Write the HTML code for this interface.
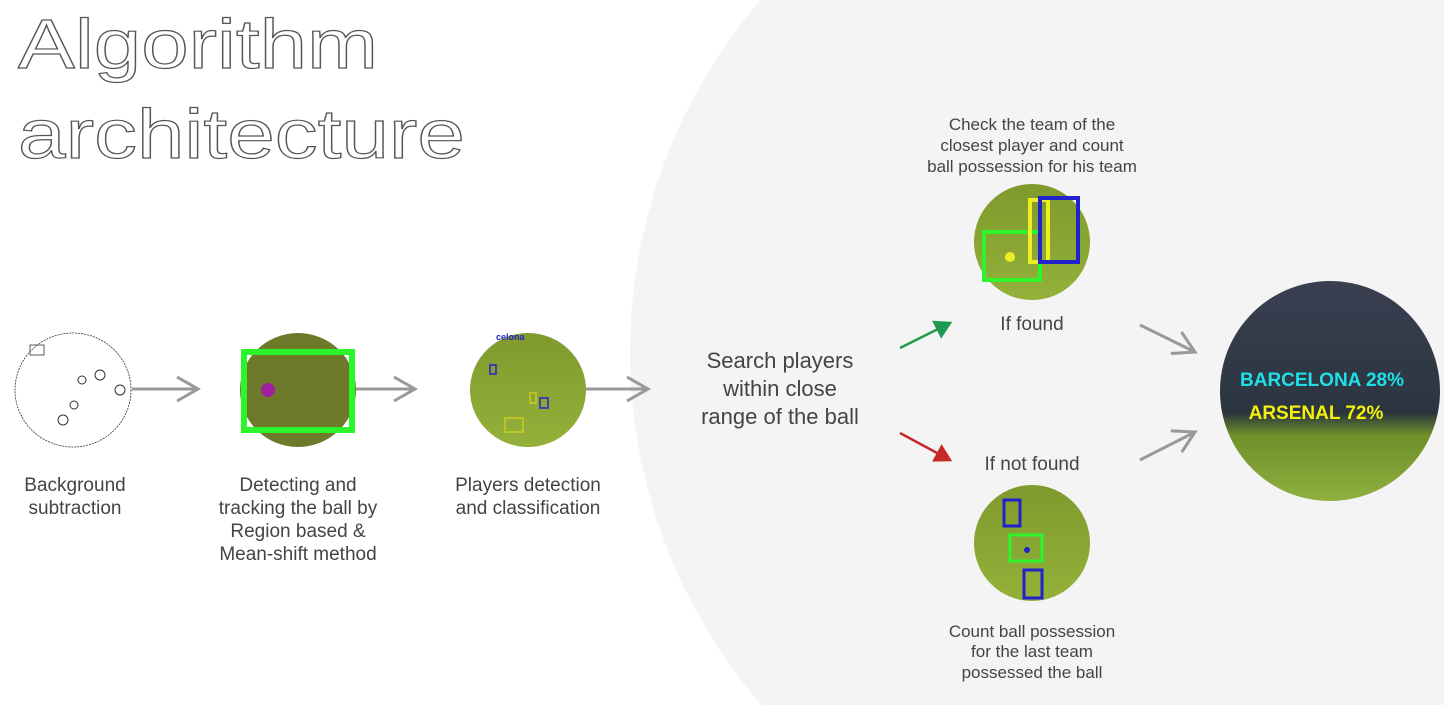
<!DOCTYPE html>
<html><head><meta charset="utf-8"><style>
html,body{margin:0;padding:0;background:#fff;width:1444px;height:705px;overflow:hidden;}
svg{display:block;font-family:"Liberation Sans",sans-serif;}
.lbl{font-size:19px;fill:#444;text-anchor:middle;}
.title{font-size:70px;fill:#fff;stroke:#555;stroke-width:1.2;}
</style></head><body>
<svg width="1444" height="705" viewBox="0 0 1444 705">
<defs>
<linearGradient id="field" x1="0" y1="0" x2="0" y2="1"><stop offset="0" stop-color="#7f9a2c"/><stop offset="1" stop-color="#93b13a"/></linearGradient>
<linearGradient id="stad" x1="0" y1="0" x2="0" y2="1"><stop offset="0" stop-color="#3a3f52"/><stop offset="0.6" stop-color="#2b3540"/><stop offset="0.7" stop-color="#6e8f2a"/><stop offset="1" stop-color="#90b040"/></linearGradient>
<marker id="ah" markerWidth="10" markerHeight="10" refX="8" refY="5" orient="auto"><path d="M1,1 L8,5 L1,9" fill="none" stroke="#999" stroke-width="1"/></marker>
<marker id="gh" markerWidth="8" markerHeight="8" refX="6" refY="4" orient="auto"><path d="M0,0 L7,4 L0,8z" fill="#1e9a50"/></marker>
<marker id="rh" markerWidth="8" markerHeight="8" refX="6" refY="4" orient="auto"><path d="M0,0 L7,4 L0,8z" fill="#c62828"/></marker>
</defs>
<circle cx="1170" cy="352" r="540" fill="#f4f4f4"/>
<text x="18" y="68" class="title" textLength="360" lengthAdjust="spacingAndGlyphs">Algorithm</text>
<text x="18" y="158" class="title" textLength="447" lengthAdjust="spacingAndGlyphs">architecture</text>

<g>
<ellipse cx="73" cy="390" rx="58" ry="57" fill="#fff" stroke="#333" stroke-width="0.8" stroke-dasharray="2,1"/>
<rect x="30" y="345" width="14" height="10" fill="none" stroke="#333" stroke-width="0.8"/>
<circle cx="82" cy="380" r="4" fill="none" stroke="#333"/><circle cx="100" cy="375" r="5" fill="none" stroke="#333"/>
<circle cx="74" cy="405" r="4" fill="none" stroke="#333"/><circle cx="63" cy="420" r="5" fill="none" stroke="#333"/><circle cx="120" cy="390" r="5" fill="none" stroke="#333"/>
</g>
<g>
<ellipse cx="298" cy="390" rx="58" ry="57" fill="#6d7a2a"/>
<rect x="244" y="352" width="108" height="78" fill="none" stroke="#2cf52c" stroke-width="6"/>
<circle cx="268" cy="390" r="7" fill="#a020a0"/>
</g>
<g>
<ellipse cx="528" cy="390" rx="58" ry="57" fill="url(#field)"/>
<rect x="490" y="365" width="6" height="9" fill="none" stroke="#22c" stroke-width="1.5"/>
<rect x="540" y="398" width="8" height="10" fill="none" stroke="#22c" stroke-width="1.5"/>
<rect x="505" y="418" width="18" height="14" fill="none" stroke="#cc2" stroke-width="1.5"/>
<rect x="530" y="393" width="6" height="10" fill="none" stroke="#cc2" stroke-width="1.5"/>
<text x="496" y="340" font-size="9" fill="#22c" font-weight="bold">celona</text>
</g>
<line x1="132" y1="389" x2="198" y2="389" stroke="#999" stroke-width="3" marker-end="url(#ah)"/>
<line x1="356" y1="389" x2="415" y2="389" stroke="#999" stroke-width="3" marker-end="url(#ah)"/>
<line x1="586" y1="389" x2="648" y2="389" stroke="#999" stroke-width="3" marker-end="url(#ah)"/>

<g><text x="75" y="491" class="lbl">Background</text><text x="75" y="514" class="lbl">subtraction</text></g>
<g><text x="298" y="491" class="lbl">Detecting and</text><text x="298" y="514" class="lbl">tracking the ball by</text><text x="298" y="537" class="lbl">Region based &amp;</text><text x="298" y="560" class="lbl">Mean-shift method</text></g>
<g><text x="528" y="491" class="lbl">Players detection</text><text x="528" y="514" class="lbl">and classification</text></g>
<g><text x="780" y="368" class="lbl" style="font-size:22px">Search players</text><text x="780" y="396" class="lbl" style="font-size:22px">within close</text><text x="780" y="424" class="lbl" style="font-size:22px">range of the ball</text></g>

<line x1="900" y1="348" x2="950" y2="323" stroke="#1e9a50" stroke-width="2.5" marker-end="url(#gh)"/>
<line x1="900" y1="433" x2="950" y2="460" stroke="#c62828" stroke-width="2.5" marker-end="url(#rh)"/>

<g><text x="1032" y="130" class="lbl" style="font-size:17px">Check the team of the</text><text x="1032" y="151" class="lbl" style="font-size:17px">closest player and count</text><text x="1032" y="172" class="lbl" style="font-size:17px">ball possession for his team</text></g>
<g>
<circle cx="1032" cy="242" r="58" fill="url(#field)"/>
<rect x="984" y="232" width="56" height="48" fill="none" stroke="#2cf52c" stroke-width="4"/>
<rect x="1030" y="200" width="18" height="62" fill="none" stroke="#ee2" stroke-width="4"/>
<rect x="1040" y="198" width="38" height="64" fill="none" stroke="#22c" stroke-width="4"/>
<circle cx="1010" cy="257" r="5" fill="#ee2"/>
</g>
<text x="1032" y="330" class="lbl">If found</text>
<text x="1032" y="470" class="lbl">If not found</text>
<g>
<circle cx="1032" cy="543" r="58" fill="url(#field)"/>
<rect x="1004" y="500" width="16" height="26" fill="none" stroke="#22c" stroke-width="3"/>
<rect x="1010" y="535" width="32" height="26" fill="none" stroke="#2cf52c" stroke-width="3"/>
<rect x="1024" y="570" width="18" height="28" fill="none" stroke="#22c" stroke-width="3"/>
<circle cx="1027" cy="550" r="3" fill="#22c"/>
</g>
<g><text x="1032" y="637" class="lbl" style="font-size:17px">Count ball possession</text><text x="1032" y="657" class="lbl" style="font-size:17px">for the last team</text><text x="1032" y="678" class="lbl" style="font-size:17px">possessed the ball</text></g>

<line x1="1140" y1="325" x2="1195" y2="352" stroke="#999" stroke-width="3" marker-end="url(#ah)"/>
<line x1="1140" y1="460" x2="1195" y2="432" stroke="#999" stroke-width="3" marker-end="url(#ah)"/>

<g>
<circle cx="1330" cy="391" r="110" fill="url(#stad)"/>
<text x="1322" y="386" text-anchor="middle" font-size="19" font-weight="bold" fill="#1de0e8">BARCELONA 28%</text>
<text x="1316" y="419" text-anchor="middle" font-size="19" font-weight="bold" fill="#f5f20a">ARSENAL 72%</text>
</g>
</svg>
</body></html>
